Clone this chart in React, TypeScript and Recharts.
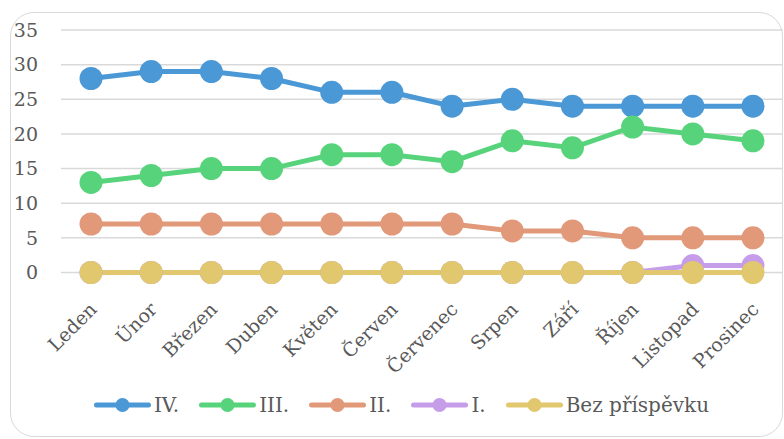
import { LineChart, Line, XAxis, YAxis, CartesianGrid } from "recharts"

const months = [
  "Leden", "Únor", "Březen", "Duben", "Květen", "Červen",
  "Červenec", "Srpen", "Září", "Říjen", "Listopad", "Prosinec",
]

const ctvrty = [28, 29, 29, 28, 26, 26, 24, 25, 24, 24, 24, 24]
const treti = [13, 14, 15, 15, 17, 17, 16, 19, 18, 21, 20, 19]
const druhy = [7, 7, 7, 7, 7, 7, 7, 6, 6, 5, 5, 5]
const prvni = [0, 0, 0, 0, 0, 0, 0, 0, 0, 0, 1, 1]
const bezPrispevku = [0, 0, 0, 0, 0, 0, 0, 0, 0, 0, 0, 0]

const yTicks = [0, 5, 10, 15, 20, 25, 30, 35]

const series = [
  { key: "iv", name: "IV.", color: "#4A98D5", values: ctvrty },
  { key: "iii", name: "III.", color: "#57D47B", values: treti },
  { key: "ii", name: "II.", color: "#E1997A", values: druhy },
  { key: "i", name: "I.", color: "#C59DE9", values: prvni },
  { key: "bez", name: "Bez příspěvku", color: "#E1C76E", values: bezPrispevku },
]

const data = months.map((m, i) => {
  const row: Record<string, string | number> = { month: m }
  series.forEach((s) => (row[s.key] = s.values[i]))
  return row
})

const FONT = "'DejaVu Serif', serif"
const TEXT = "#595959"

function MonthTick(props: any) {
  const { x, y, payload } = props
  return (
    <g transform={`translate(${x + 7},${y + 30}) rotate(-45)`}>
      <text x={0} y={0} textAnchor="end" fill={TEXT} fontSize={19} fontFamily={FONT}>
        {payload.value}
      </text>
    </g>
  )
}

export default function App() {
  return (
    <div
      style={{
        position: "fixed",
        left: 0,
        top: 0,
        width: 784,
        height: 439,
        overflow: "hidden",
        background: "#fff",
      }}
    >
      {/* rámeček */}
      <div
        style={{
          position: "absolute",
          left: 10,
          top: 12,
          width: 771,
          height: 423,
          border: "1.5px solid #d9d9d9",
          borderRadius: 24,
        }}
      />

      <div style={{ position: "absolute", left: 0, top: 0 }}>
        <LineChart
          width={784}
          height={400}
          data={data}
          margin={{ top: 30, right: 1, left: 0, bottom: 0 }}
        >
          <CartesianGrid vertical={false} stroke="#d9d9d9" strokeWidth={1.5} />
          <XAxis
            dataKey="month"
            axisLine={false}
            tickLine={false}
            interval={0}
            height={127.5}
            padding={{ left: 30, right: 30 }}
            tick={<MonthTick />}
          />
          <YAxis
            width={61}
            domain={[0, 35]}
            ticks={yTicks}
            axisLine={false}
            tickLine={false}
            tickSize={0}
            tickMargin={23}
            tick={{ fill: TEXT, fontSize: 19, fontFamily: FONT }}
          />
          {series.map((s) => (
            <Line
              key={s.key}
              dataKey={s.key}
              name={s.name}
              stroke={s.color}
              strokeWidth={5}
              dot={{ r: 11.5, fill: s.color, stroke: "none" }}
              activeDot={false}
              isAnimationActive={false}
            />
          ))}
        </LineChart>
      </div>

      {/* legenda */}
      <div
        style={{
          position: "absolute",
          left: 0,
          width: 803,
          top: 392,
          display: "flex",
          justifyContent: "center",
          gap: 20,
          fontFamily: FONT,
          fontSize: 20,
          color: TEXT,
        }}
      >
        {series.map((s) => (
          <div key={s.key} style={{ display: "flex", alignItems: "center", gap: 3 }}>
            <svg width={57} height={26}>
              <line x1={2.5} y1={13} x2={54.5} y2={13} stroke={s.color} strokeWidth={5} strokeLinecap="round" />
              <circle cx={28.5} cy={13} r={7} fill={s.color} />
            </svg>
            <span>{s.name}</span>
          </div>
        ))}
      </div>
    </div>
  )
}
